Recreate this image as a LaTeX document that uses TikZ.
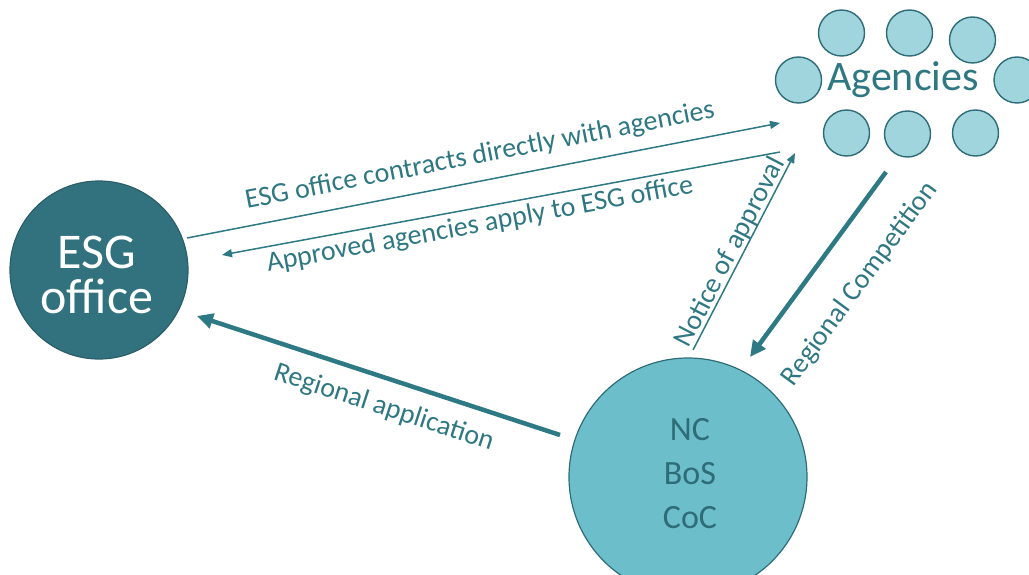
\documentclass[tikz,border=0pt]{standalone}
\usepackage{fontspec}
\setmainfont{Carlito}
\usetikzlibrary{arrows.meta}
\definecolor{darkteal}{HTML}{31727E}
\definecolor{darkedge}{HTML}{2A5F69}
\definecolor{midteal}{HTML}{6CBECB}
\definecolor{lightteal}{HTML}{A0D5DD}
\definecolor{edgeteal}{HTML}{2E6C77}
\definecolor{txtteal}{HTML}{2F7882}
\definecolor{arrteal}{HTML}{2E7A84}
\tikzset{
  agency/.style={circle, draw=edgeteal, line width=1.4pt, fill=lightteal, minimum size=46pt, inner sep=0pt},
  lbl/.style={text=txtteal, font=\fontsize{28}{32}\selectfont, inner sep=1pt},
  thinarrow/.style={draw=arrteal, line width=1.5pt, -{Triangle[length=10pt,width=8pt]}},
  thickarrow/.style={draw=arrteal, line width=4.5pt, -{Triangle[length=16pt,width=15pt]}}
}
\begin{document}
\begin{tikzpicture}[x=1pt,y=-1pt]
\useasboundingbox (0,0) rectangle (1029,575);
% main circles
\node[circle, draw=darkedge, line width=1.2pt, fill=darkteal, minimum size=178pt, inner sep=0pt] (esg) at (99,270) {};
\node[text=white, align=center, font=\fontsize{50}{45}\selectfont, inner sep=0pt] (esgtext) at (97,275) {ESG\\office};
\node[circle, draw=edgeteal, line width=1.2pt, fill=midteal, minimum size=238pt, inner sep=0pt] (nc) at (688,477) {};
\node[text=edgeteal, align=center, font=\fontsize{34}{44}\selectfont] (nctext) at (690,474) {NC\\BoS\\CoC};
% agencies
\node[agency] (ag1) at (841.5,33) {};
\node[agency] (ag2) at (909.5,33) {};
\node[agency] (ag3) at (972.5,40) {};
\node[agency] (ag4) at (798.5,80) {};
\node[agency] (ag5) at (1017,80) {};
\node[agency] (ag6) at (846.5,133) {};
\node[agency] (ag7) at (907.5,134) {};
\node[agency] (ag8) at (975.5,133) {};
\node[text=txtteal, font=\fontsize{42}{50}\selectfont, inner sep=0pt] (agencies) at (903,80) {Agencies};
% endpoints
\coordinate (a1s) at (187,238);
\coordinate (a1e) at (780,123);
\coordinate (a2s) at (780,152);
\coordinate (a2e) at (222,255);
\coordinate (a3s) at (693,350);
\coordinate (a3e) at (795,153);
\coordinate (a4s) at (886,172);
\coordinate (a4e) at (750,357);
\coordinate (a5s) at (560,435);
\coordinate (a5e) at (197,316);
% connectors
\draw[thinarrow] (a1s) -- (a1e);
\draw[thinarrow] (a2s) -- (a2e);
\draw[thinarrow] (a3s) -- (a3e);
\draw[thickarrow] (a4s) -- (a4e);
\draw[thickarrow] (a5s) -- (a5e);
% labels
\node[lbl, rotate=11] (l1) at (480,156) {ESG office contracts directly with agencies};
\node[lbl, rotate=10.5] (l2) at (480,225) {Approved agencies apply to ESG office};
\node[lbl, rotate=62.6, anchor=base] (l3) at (737,256) {Notice of approval};
\node[lbl, rotate=53.7] (l4) at (860,284) {Regional Competition};
\node[lbl, rotate=-18.1] (l5) at (384,408) {Regional application};
\end{tikzpicture}
\end{document}
